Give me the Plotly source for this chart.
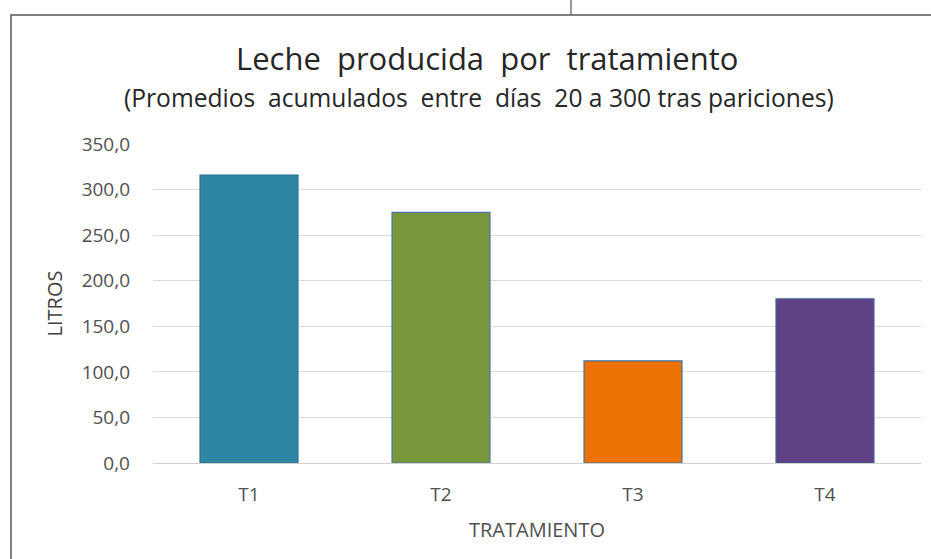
import plotly.graph_objects as go

# Accumulated milk per treatment (litres)
tratamientos = ["T1", "T2", "T3", "T4"]
litros = [316.0, 275.0, 112.0, 180.0]
colores = ["#2E86A3", "#78963A", "#EE7203", "#5E4283"]
bordes = ["#2A6F9A", "#4C6FB0", "#3E6FA8", "#3F5A9E"]
y_ticks = [0, 50, 100, 150, 200, 250, 300, 350]

W, H = 931, 559
L, R, T, B = 153, 10, 144, 96
pw, ph = W - L - R, H - T - B


def px(x):
    return (x - L) / pw


def py(y):
    return (H - B - y) / ph


fig = go.Figure(
    go.Bar(
        x=tratamientos,
        y=litros,
        marker=dict(color=colores, line=dict(color=bordes, width=1.2)),
        width=0.51,
        hoverinfo="x+y",
    )
)

font = "Open Sans, Liberation Sans, sans-serif"

fig.update_layout(
    width=W,
    height=H,
    margin=dict(l=L, r=R, t=T, b=B),
    paper_bgcolor="white",
    plot_bgcolor="white",
    separators=",.",
    showlegend=False,
    font=dict(family=font, color="#404040"),
    xaxis=dict(
        showgrid=False,
        showline=False,
        ticks="",
        ticklabelstandoff=18,
        tickfont=dict(size=19, color="#505050"),
        title=dict(text="TRATAMIENTO", font=dict(size=20, color="#505050"), standoff=16),
    ),
    yaxis=dict(
        range=[0, 350],
        tickvals=y_ticks,
        tickformat=".1f",
        showgrid=True,
        gridcolor="#D9D9D9",
        gridwidth=1.3,
        zeroline=True,
        zerolinecolor="#D0D0D0",
        zerolinewidth=1.3,
        ticks="",
        ticklabelstandoff=22,
        tickfont=dict(size=19, color="#505050"),
        title=dict(text="LITROS", font=dict(size=20, color="#404040"), standoff=13),
    ),
    annotations=[
        dict(
            text="Leche  producida  por  tratamiento",
            xref="paper", yref="paper",
            x=px(487), y=py(58),
            xanchor="center", yanchor="middle",
            showarrow=False,
            font=dict(size=31, color="#262626", family=font),
        ),
        dict(
            text="(Promedios  acumulados  entre  días  20 a 300 tras pariciones)",
            xref="paper", yref="paper",
            x=px(479), y=py(98),
            xanchor="center", yanchor="middle",
            showarrow=False,
            font=dict(size=24.6, color="#262626", family=font),
        ),
    ],
    shapes=[
        # chart frame (open on the right and bottom edges of the page)
        dict(type="rect", xref="paper", yref="paper",
             x0=px(11), x1=px(W + 10), y0=py(H + 5), y1=py(15),
             line=dict(color="#555555", width=1.5), fillcolor="rgba(0,0,0,0)",
             layer="below"),
        dict(type="line", xref="paper", yref="paper",
             x0=px(571), x1=px(571), y0=py(15), y1=py(0),
             line=dict(color="#555555", width=1.2)),
    ],
)

fig.write_html("out.html")
